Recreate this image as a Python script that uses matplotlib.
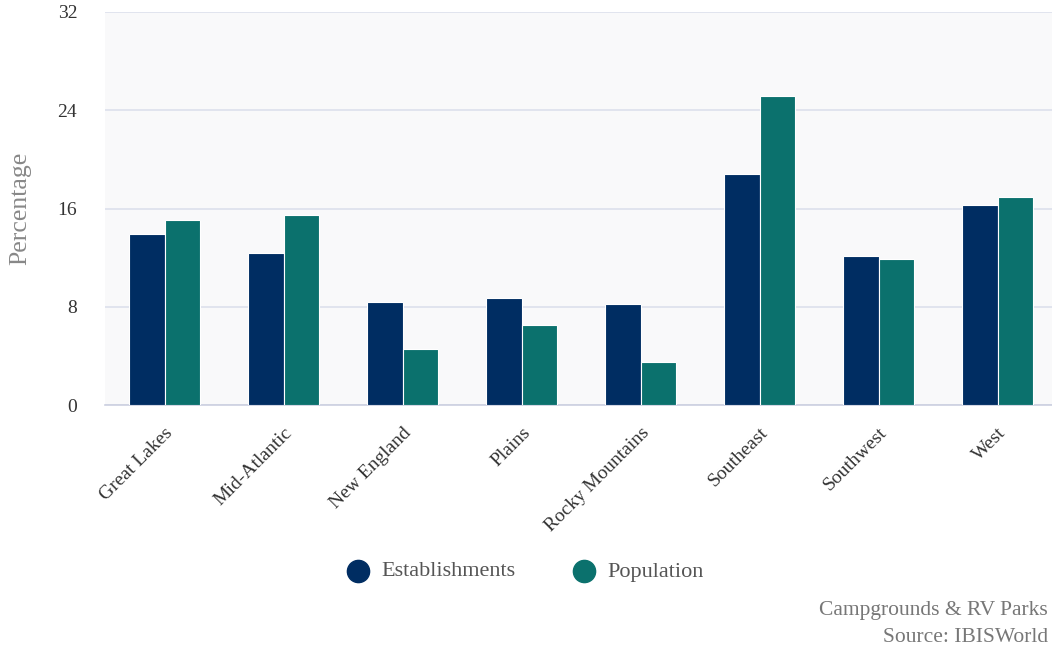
import numpy as np
import matplotlib.pyplot as plt

regions = ["Great Lakes", "Mid-Atlantic", "New England", "Plains",
           "Rocky Mountains", "Southeast", "Southwest", "West"]
establishments = [13.9, 12.4, 8.4, 8.7, 8.2, 18.8, 12.1, 16.3]
population = [15.1, 15.5, 4.6, 6.5, 3.5, 25.2, 11.9, 16.9]
yticks = [0, 8, 16, 24, 32]

navy = "#002d62"
teal = "#0b716d"

plt.rcParams['font.family'] = ['Liberation Serif', 'DejaVu Serif']

fig = plt.figure(figsize=(10.52, 6.54), dpi=100)
ax = fig.add_axes([105/1052, 1 - 405/654, 952/1052, 393/654])
ax.set_facecolor("#f9f9fa")

x = np.arange(len(regions))
w = 0.295
ax.bar(x - w/2, establishments, w, color=navy, edgecolor="white", linewidth=0.8, zorder=3)
ax.bar(x + w/2, population, w, color=teal, edgecolor="white", linewidth=0.8, zorder=3)

ax.set_xlim(-0.5, len(regions) - 0.5)
ax.set_ylim(0, 32)
ax.set_yticks(yticks)
ax.set_yticklabels([str(t) for t in yticks], fontsize=14, color="#333333")
ax.yaxis.grid(True, color="#dde0ec", linewidth=1.2, zorder=0)
ax.tick_params(axis="y", length=0, pad=20)
ax.tick_params(axis="x", length=0, pad=14)
ax.set_xticks(x)
ax.set_xticklabels(regions, rotation=45, ha="right", rotation_mode="anchor",
                   fontsize=14, color="#333333")
for s in ["top", "right", "left"]:
    ax.spines[s].set_visible(False)
ax.spines["bottom"].set_color("#ccd0e0")
ax.spines["bottom"].set_linewidth(1.2)

fig.text(20/1052, 1 - 208/654, "Percentage", rotation=90, ha="center", va="center",
         fontsize=18.5, color="#888888")

# legend
for cx, col, label in [(358, navy, "Establishments"), (584, teal, "Population")]:
    fig.lines.append(plt.Line2D([cx/1052], [1 - 571/654], marker="o", markersize=16,
                                color=col, transform=fig.transFigure))
    fig.text((cx + 23)/1052, 1 - 572/654, label, color="#555555", fontsize=16, va="center")

# footer (reference crops it at the edge; kept fully visible here)
fig.text(1048/1052, 1 - 610/654, "Campgrounds & RV Parks", color="#777777", fontsize=15.5,
         va="center", ha="right")
fig.text(1048/1052, 1 - 638/654, "Source: IBISWorld", color="#777777", fontsize=15.5,
         va="center", ha="right")

fig.savefig("out.png", dpi=100)
